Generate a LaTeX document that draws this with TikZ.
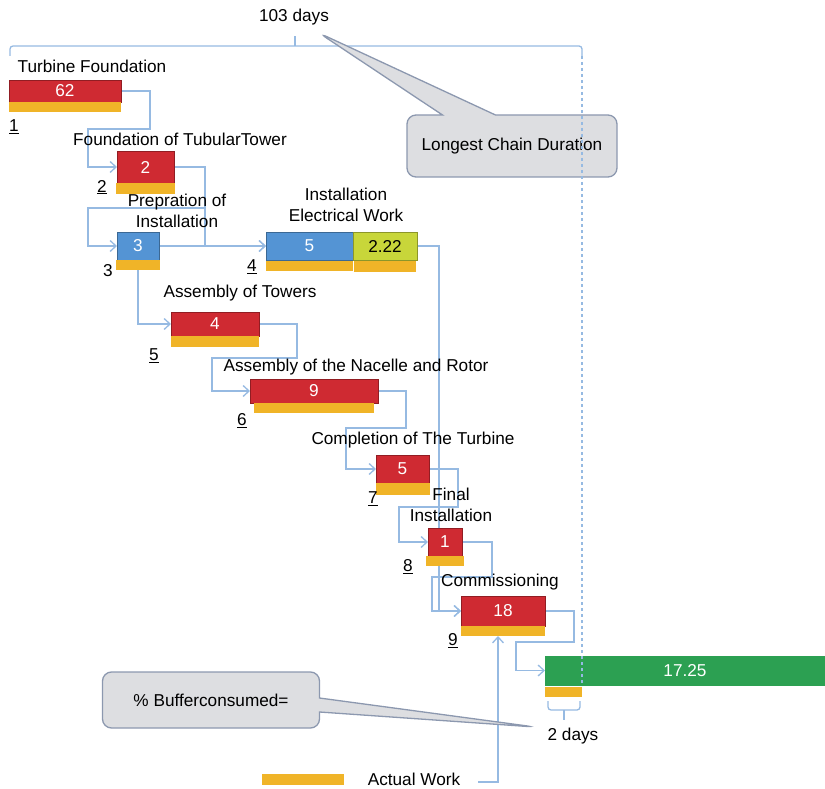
\documentclass[tikz,border=0pt]{standalone}
\usepackage{fontspec}
\setmainfont{Liberation Sans}
\usetikzlibrary{arrows.meta,positioning,calc,backgrounds,shapes.callouts}
\definecolor{barred}{RGB}{207,42,50}
\definecolor{barblue}{RGB}{84,148,212}
\definecolor{barlime}{RGB}{200,214,58}
\definecolor{bargreen}{RGB}{44,160,82}
\definecolor{workamber}{RGB}{240,180,40}
\definecolor{linkblue}{RGB}{150,186,226}
\definecolor{calloutgray}{RGB}{221,222,225}
\definecolor{calloutedge}{RGB}{140,152,175}
\tikzset{
  task/.style  ={rectangle, fill=barred, draw=barred!70!black, line width=0.6pt,
                 text=white, inner sep=0pt, outer sep=0pt},
  ptask/.style ={task, fill=barblue, draw=barblue!70!black},
  etask/.style ={task, fill=barlime, draw=barlime!70!black, text=black},
  btask/.style ={task, fill=bargreen, draw=bargreen},
  work/.style  ={rectangle, fill=workamber, inner sep=0pt, outer sep=0pt, minimum height=10pt},
  tlbl/.style  ={align=center, inner sep=0pt},
  tnum/.style  ={inner sep=0pt},
  link/.style  ={draw=linkblue, line width=1.3pt, -{Straight Barb[length=6pt,width=11pt]}},
  span/.style  ={draw=linkblue, line width=1.3pt, rounded corners=3pt},
  dashline/.style={draw=linkblue, line width=1.5pt, dash pattern=on 3pt off 3pt},
  callout/.style={rectangle callout, rounded corners=9pt, fill=calloutgray, draw=calloutedge,
                 line width=1.3pt, align=center, inner sep=0pt}
}
\begin{document}
\begin{tikzpicture}[x=1pt, y=-1pt, font=\fontsize{17.2}{20.5}\selectfont]
\useasboundingbox (0,0) rectangle (825,789);
% ---- chain of tasks ----
\node[task, minimum width=112pt, minimum height=22pt] (t1) at (65,91) {62};
\node[work, minimum width=112pt, below=0pt of t1] (a1) {};
\node[task, minimum width=57pt, minimum height=32pt] (t2) at (145.5,167) {2};
\node[work, minimum width=59pt, minimum height=11pt, below=0pt of t2] (a2) {};
\node[ptask, minimum width=42pt, minimum height=28pt] (t3) at (138,246) {3};
\node[work, minimum width=44pt, below=0pt of t3] (a3) {};
\node[ptask, minimum width=87pt, minimum height=28pt] (t4) at (309.5,246) {5};
\node[work, minimum width=87pt, below=1pt of t4] (a4) {};
\node[etask, minimum width=64pt, minimum height=28pt, right=0pt of t4] (e4) {2.22};
\node[work, minimum width=62pt, minimum height=11pt, below=1pt of e4] (ae4) {};
\node[task, minimum width=88pt, minimum height=24pt] (t5) at (215,324) {4};
\node[work, minimum width=88pt, minimum height=11pt, below=0pt of t5] (a5) {};
\node[task, minimum width=128pt, minimum height=24pt] (t6) at (314,391) {9};
\node[work, minimum width=120pt, below=0pt of t6] (a6) {};
\node[task, minimum width=53pt, minimum height=28pt] (t7) at (402.5,469) {5};
\node[work, minimum width=54pt, minimum height=12pt, below=0pt of t7] (a7) {};
\node[task, minimum width=34pt, minimum height=28pt] (t8) at (445,542) {1};
\node[work, minimum width=38pt, below=0pt of t8] (a8) {};
\node[task, minimum width=84pt, minimum height=30pt] (t9) at (503,611) {18};
\node[work, minimum width=84pt, below=0pt of t9] (a9) {};
\node[btask, minimum width=280pt, minimum height=29pt] (buf) at (685,670.5) {17.25};
\node[work, minimum width=37pt, anchor=north west] (abuf) at ([yshift=-2pt]buf.south west) {};

% ---- task names ----
\node[tlbl] (l1) at (92,66) {Turbine Foundation};
\node[tlbl] (l2) at (180,139) {Foundation of TubularTower};
\node[tlbl] (l3) at (177,211) {Prepration of\\Installation};
\node[tlbl] (l4) at (346,205) {Installation\\Electrical Work};
\node[tlbl] (l5) at (240,293) {Assembly of Towers};
\node[tlbl] (l6) at (356,367) {Assembly of the Nacelle and Rotor};
\node[tlbl] (l7) at (413,440) {Completion of The Turbine};
\node[tlbl] (l8) at (451,505) {Final\\Installation};
\node[tlbl] (l9) at (500,582) {Commissioning};

% ---- task numbers ----
\node[tnum] (n1) at (14,127) {\underline{1}};
\node[tnum] (n2) at (102,187) {\underline{2}};
\node[tnum] (n3) at (108,271) {3};
\node[tnum] (n4) at (252,267) {\underline{4}};
\node[tnum] (n5) at (154,356) {\underline{5}};
\node[tnum] (n6) at (242,421) {\underline{6}};
\node[tnum] (n7) at (373,499) {\underline{7}};
\node[tnum] (n8) at (408,567) {\underline{8}};
\node[tnum] (n9) at (453,641) {\underline{9}};

% ---- spans ----
\node[tlbl] (total) at (294,17) {103 days};
\coordinate (brL) at (10,56);
\coordinate (brM) at (295,46);
\coordinate (brR) at (582,56);
\node[tlbl] (bdays) at (573,736) {2 days};
\coordinate (bbL) at (548,701);
\coordinate (bbM) at (564,710);
\coordinate (bbR) at (580,701);

% ---- legend ----
\node[work, minimum width=82pt, minimum height=11pt] (leg) at (303,779) {};
\node[tlbl] (legtxt) at (414,779) {Actual Work};
\coordinate (awend) at (478,782);

% ---- edges ----
\begin{scope}[on background layer]
\draw[span] (brL) |- (brM) -| (brR);
\draw[span] (brM) -- ++(0,-10);
\draw[span] (bbL) |- (bbM) -| (bbR);
\draw[span] (bbM) -- ++(0,10);
\draw[link] (t1.east) -| ++(29,38) -| ($(t2.west)-(29,0)$) -- (t2.west);
\draw[link] (t2.east) -| ++(31,41) -| ($(t3.west)-(29,0)$) -- (t3.west);
\draw[link] (t2.east) -| ++(31,79) -- (t4.west);
\draw[link] (t3.east) -- (t4.west);
\draw[link] (a3.south) |- (t5.west);
\draw[link] (t5.east) -| ++(38,34) -| ($(t6.west)-(38,0)$) -- (t6.west);
\draw[link] (t6.east) -| ++(28,37) -| ($(t7.west)-(30,0)$) -- (t7.west);
\draw[link] (t7.east) -| ++(29,38) -| ($(t8.west)-(29,0)$) -- (t8.west);
\draw[link] (t8.east) -| ++(30,35) -| ($(t9.west)-(29,0)$) -- (t9.west);
\draw[link] (e4.east) -| ($(t9.west)-(22,0)$) -- (t9.west);
\draw[link] (t9.east) -| ++(29,31) -| ($(buf.west)-(29,0)$) -- (buf.west);
\draw[link] (awend) -| ([xshift=-5pt]a9.south);
\end{scope}

% ---- callouts ----
\coordinate (lcdtip) at (319,33);
\node[callout, minimum width=210pt, minimum height=62pt, callout pointer width=53pt,
      callout absolute pointer=(lcdtip)] (lcd) at (512,146) {Longest Chain Duration};
\coordinate (bctip) at (535,727);
\node[callout, minimum width=217pt, minimum height=56pt, callout pointer width=14pt,
      callout absolute pointer=(bctip)] (bc) at (211,700) {\% Bufferconsumed=};

\draw[dashline] (brR) -- (brR |- buf.south);
\end{tikzpicture}
\end{document}
